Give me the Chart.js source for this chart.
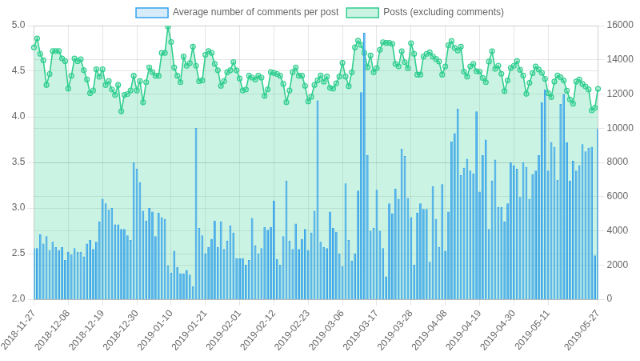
<!DOCTYPE html>
<html>
<head>
<meta charset="utf-8">
<script src="https://cdn.jsdelivr.net/npm/chart.js@4/dist/chart.umd.min.js"></script>
<style>
  html, body { margin: 0; padding: 0; background: #fff; overflow: hidden; }
  #wrap { width: 800px; height: 451px; transform: scale(0.8); transform-origin: 0 0; }
</style>
</head>
<body>
<div id="wrap"><canvas id="chart" width="800" height="451"></canvas></div>
<script>
// daily categories, 2018-11-27 .. 2019-05-27
const startDay = '2018-11-27';
const dayCount = 182;

// average number of comments per post (left axis)
const avgComments = [
  2.56, 2.56, 2.71, 2.61, 2.69, 2.54, 2.63, 2.57, 2.54, 2.57,
  2.43, 2.52, 2.49, 2.56, 2.52, 2.52, 2.47, 2.61, 2.65, 2.55,
  2.63, 2.85, 3.10, 3.05, 2.98, 3.00, 2.82, 2.82, 2.77, 2.77,
  2.70, 2.65, 3.50, 3.43, 3.28, 2.97, 2.86, 3.00, 2.96, 2.69,
  2.95, 2.90, 2.88, 2.37, 2.29, 2.53, 2.35, 2.28, 2.28, 2.32,
  2.27, 2.14, 3.88, 2.78, 2.70, 2.50, 2.57, 2.66, 2.86, 2.57,
  2.85, 2.55, 2.64, 2.81, 2.73, 2.45, 2.45, 2.45, 2.38, 2.43,
  2.89, 2.59, 2.50, 2.56, 2.79, 2.76, 2.79, 3.08, 2.44, 2.38,
  2.69, 3.30, 2.64, 2.55, 2.83, 2.55, 2.66, 2.77, 2.54, 2.73,
  2.97, 4.18, 2.63, 2.57, 2.56, 2.96, 2.78, 2.74, 2.50, 2.36,
  3.27, 2.65, 2.42, 2.50, 3.19, 4.27, 4.92, 3.58, 2.75, 2.78,
  3.20, 2.75, 2.56, 2.25, 3.05, 2.94, 3.21, 3.10, 3.65, 3.57,
  3.11, 2.90, 2.38, 2.95, 3.05, 2.99, 2.99, 2.41, 3.24, 2.88,
  2.57, 3.26, 2.53, 2.96, 3.73, 3.82, 4.09, 3.36, 3.44, 3.54,
  3.41, 3.38, 4.06, 3.18, 3.58, 3.75, 2.77, 3.30, 3.53, 3.01,
  3.01, 2.85, 3.05, 3.50, 3.47, 3.43, 3.12, 3.50, 3.45, 3.10,
  3.37, 3.41, 3.58, 4.16, 4.30, 3.41, 3.72, 3.67, 3.31, 4.14,
  4.25, 3.72, 3.30, 3.52, 3.41, 3.47, 3.70, 3.62, 3.66, 3.67,
  2.48, 3.87
];

// posts excluding comments (right axis)
const posts = [
  14720, 15250, 14350, 13970, 12530, 13170, 14510, 14510, 14510, 14080,
  13920, 12320, 13070, 14080, 13920, 14030, 13390, 12850, 12050, 12210,
  13440, 13010, 13440, 12530, 12750, 12270, 11950, 12530, 10990, 11950,
  12000, 12210, 13070, 12210, 12750, 11520, 12690, 13550, 13280, 13070,
  13070, 14400, 14400, 15950, 15040, 13550, 13070, 12690, 14190, 13650,
  13810, 14770, 13650, 12750, 12800, 14290, 14510, 14400, 13760, 13390,
  12480, 12750, 13280, 13390, 13870, 13390, 12910, 12210, 12270, 13070,
  12960, 12850, 13070, 12960, 11890, 12270, 13280, 13230, 13170, 13070,
  12590, 11520, 12210, 13280, 13550, 13070, 13070, 12480, 11570, 11840,
  12530, 12800, 13080, 12730, 13020, 12360, 12320, 12630, 13020, 13820,
  13020, 12460, 13270, 14730, 15120, 14870, 14400, 13570, 14250, 13270,
  13510, 14580, 15030, 14990, 14990, 14930, 13760, 13610, 14500, 13860,
  13510, 14970, 14350, 13140, 13140, 14190, 14350, 14440, 14190, 14050,
  13900, 13140, 13610, 14850, 15090, 14700, 14540, 14770, 13310, 13020,
  13610, 13760, 13330, 13310, 12940, 12690, 13900, 14500, 13470, 13660,
  13180, 12170, 12790, 13530, 13650, 13920, 13410, 13080, 12010, 12650,
  13220, 13610, 13430, 13240, 12890, 12050, 11820, 12730, 13080, 12980,
  12790, 12200, 11680, 11430, 12730, 12850, 12590, 12440, 12260, 11040,
  11190, 12300
];

const labels = [];
const d0 = new Date(startDay + 'T00:00:00Z');
for (let i = 0; i < dayCount; i++) {
  const d = new Date(d0.getTime() + i * 86400000);
  labels.push(d.toISOString().slice(0, 10));
}

const blue = 'rgb(54, 162, 235)';
const green = 'rgb(48, 206, 143)';
const legendFills = ['rgba(54, 162, 235, 0.2)', 'rgba(48, 206, 143, 0.25)'];

new Chart(document.getElementById('chart'), {
  type: 'bar',
  data: {
    labels: labels,
    datasets: [{
      label: 'Average number of comments per post',
      data: avgComments,
      yAxisID: 'y',
      backgroundColor: 'rgba(54, 162, 235, 0.85)',
      borderColor: blue,
      borderWidth: 1
    }, {
      type: 'line',
      label: 'Posts (excluding comments)',
      data: posts,
      yAxisID: 'y1',
      backgroundColor: 'rgba(48, 206, 143, 0.25)',
      borderColor: green,
      borderWidth: 1.6,
      pointRadius: 3,
      pointBorderWidth: 1.2,
      tension: 0,
      fill: 'origin'
    }]
  },
  options: {
    responsive: false,
    animation: false,
    devicePixelRatio: 1,
    plugins: {
      legend: {
        labels: {
          color: '#666',
          font: { size: 12 },
          generateLabels: chart => {
            const items = Chart.defaults.plugins.legend.labels.generateLabels(chart);
            items.forEach((it, k) => { it.fillStyle = legendFills[k]; it.lineWidth = 1.5; });
            return items;
          }
        }
      },
      tooltip: { enabled: false }
    },
    scales: {
      x: {
        offset: false,
        grid: { offset: false },
        ticks: {
          autoSkip: false,
          maxRotation: 50,
          minRotation: 50,
          color: '#666',
          callback: function (v, i) {
            if ((i % 11 === 0 && i <= 165) || i === dayCount - 1) return this.getLabelForValue(v);
            return null;
          }
        },
        afterFit: s => { s.height = 77; }
      },
      y: {
        position: 'left',
        min: 2,
        max: 5,
        ticks: { stepSize: 0.5, color: '#666', callback: v => v.toFixed(1) },
        afterFit: s => { s.width = 42.5; }
      },
      y1: {
        position: 'right',
        min: 0,
        max: 16000,
        ticks: { stepSize: 2000, color: '#666', callback: v => String(v) },
        afterFit: s => { s.width = 52.5; }
      }
    }
  }
});
</script>
</body>
</html>
